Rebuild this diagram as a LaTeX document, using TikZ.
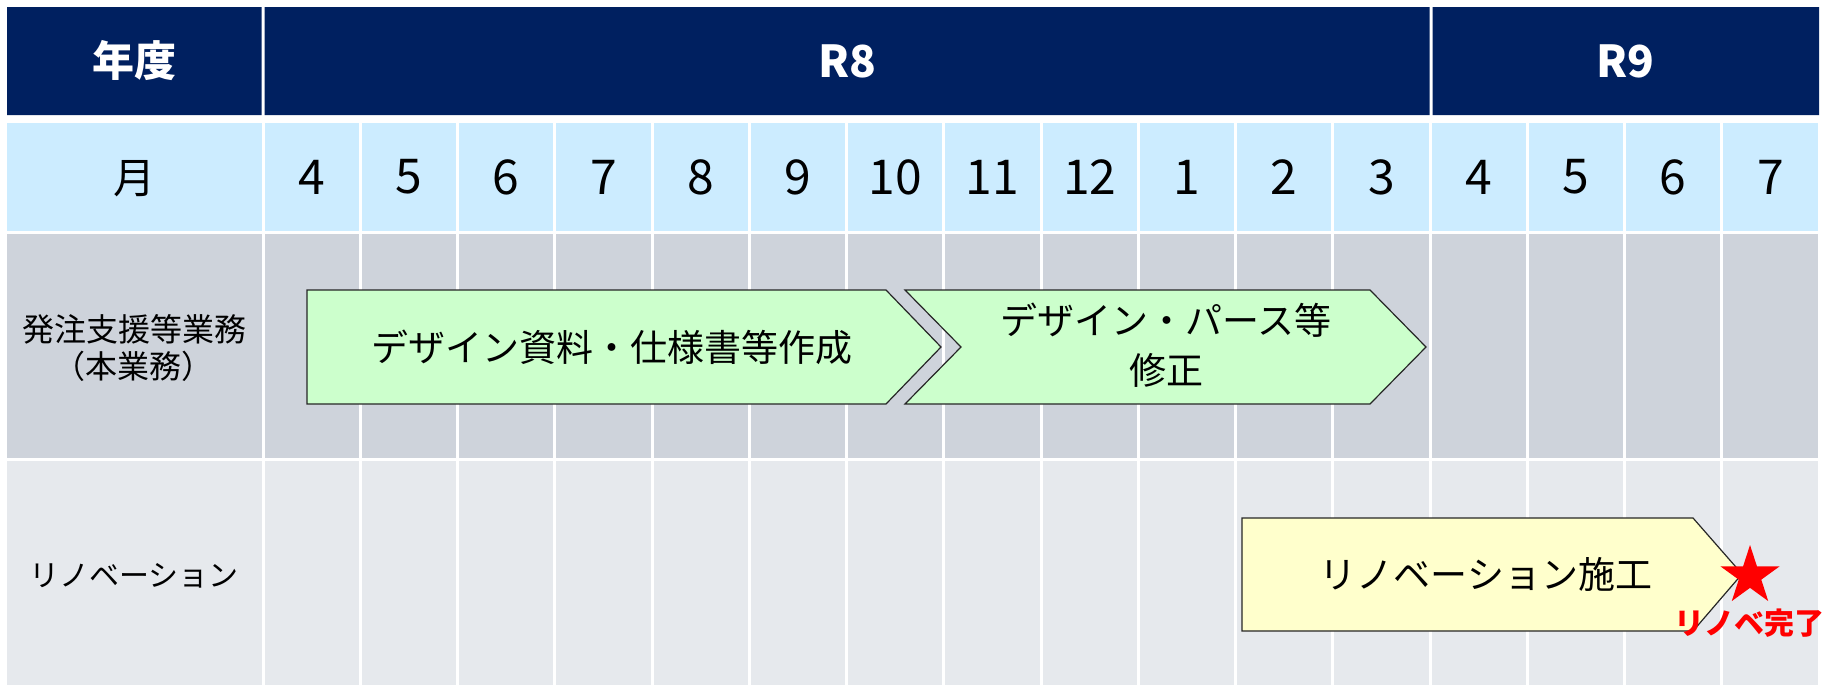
\documentclass[tikz,border=0pt]{standalone}
\usepackage{fontspec}
\setmainfont{Noto Sans CJK JP}
\usetikzlibrary{shapes.geometric}
\definecolor{hdrnavy}{HTML}{002060}
\definecolor{monthblue}{HTML}{CCECFF}
\definecolor{taskgray}{HTML}{CED3DB}
\definecolor{renogray}{HTML}{E6E9ED}
\definecolor{stepgreen}{HTML}{CCFFCC}
\definecolor{stepyellow}{HTML}{FFFFCC}
\begin{document}
\begin{tikzpicture}[x=0.5pt,y=-0.5pt,
	hdr/.style={white,inner sep=0pt,font=\bfseries\fontsize{22}{24}\selectfont},
	monthnum/.style={inner sep=0pt,font=\fontsize{24}{26}\selectfont},
	rowlbl/.style={inner sep=0pt,align=center,font=\fontsize{16}{18.5}\selectfont},
	steptxt/.style={inner sep=0pt,align=center,font=\fontsize{18.5}{25}\selectfont},
	steparrow/.style={draw=black!85,line width=0.6pt,fill=#1}]
\useasboundingbox (0,0) rectangle (1825,685);
% header row
\fill[hdrnavy] (7,7) rectangle (261.5,115) (264.5,7) rectangle (1429.5,115)
	(1432.5,7) rectangle (1819,115);
\fill[monthblue] (7,123) rectangle (261.5,231);
\fill[taskgray] (7,234) rectangle (261.5,458);
\fill[renogray] (7,461) rectangle (261.5,685);
\node[hdr,font=\bfseries\fontsize{21}{23}\selectfont] (year) at (134,61) {年度};
\node[hdr] (r8) at (847,61) {R8};
\node[hdr] (r9) at (1625,61) {R9};
\node[monthnum,font=\fontsize{21}{23}\selectfont] (month) at (134,179) {月};
% month columns
\foreach \m [count=\i from 0] in {4,5,6,7,8,9,10,11,12,1,2,3,4,5,6,7} {
	\pgfmathsetmacro\xl{264.5+97.25*\i}
	\pgfmathsetmacro\xr{261.5+97.25*(\i+1)}
	\fill[monthblue] (\xl,123) rectangle (\xr,231);
	\fill[taskgray] (\xl,234) rectangle (\xr,458);
	\fill[renogray] (\xl,461) rectangle (\xr,685);
	\node[monthnum] (m\i) at ({(\xl+\xr)/2},177) {\m};
}
\node[rowlbl] (task) at (134,348) {発注支援等業務\\（本業務）};
\node[rowlbl,font=\fontsize{15}{17}\selectfont] (reno) at (134,576) {リノベーション};
% schedule bars
\draw[steparrow=stepgreen] (307,290) -- (886,290) -- (941,347) -- (886,404) -- (307,404) -- cycle;
\draw[steparrow=stepgreen] (905,290) -- (1370,290) -- (1426,347) -- (1370,404) -- (905,404)
	-- (961,347) -- cycle;
\draw[steparrow=stepyellow] (1242,518) -- (1693,518) -- (1742,574) -- (1693,631) -- (1242,631) -- cycle;
\node[steptxt] (design) at (612,347) {デザイン資料・仕様書等作成};
\node[steptxt] (revise) at (1166,345) {デザイン・パース等\\修正};
\node[steptxt] (build) at (1486,574) {リノベーション施工};
\node[star,star points=5,star point ratio=2.618,fill=red,minimum size=31pt,inner sep=0pt] (done) at (1750,576) {};
\node[red,inner sep=0pt,font=\bfseries\fontsize{15}{17}\selectfont] (donelbl) at (1749,623) {リノベ完了};
\end{tikzpicture}
\end{document}
